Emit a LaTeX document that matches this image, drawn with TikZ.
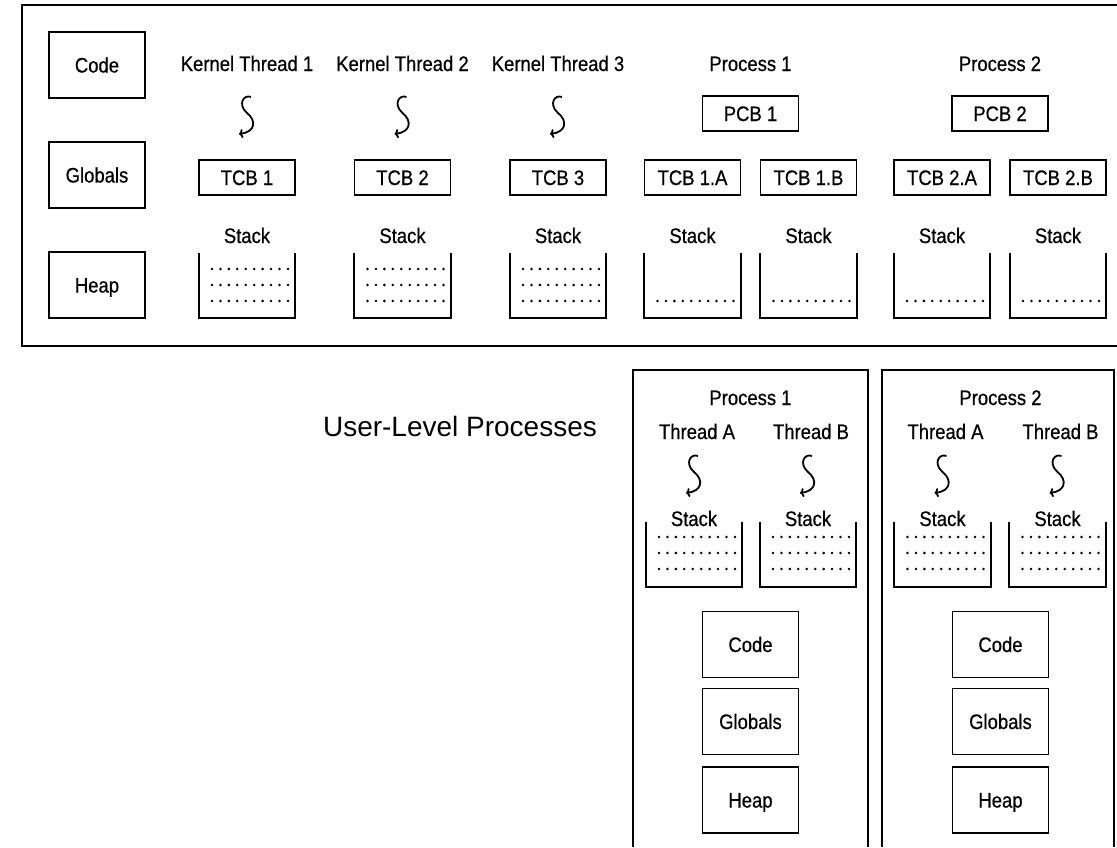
\documentclass[tikz,border=0pt]{standalone}
\usepackage{fontspec}
\setmainfont{Liberation Sans}[FakeStretch=0.88,FakeBold=0.6]
\newfontfamily\widefont{Liberation Sans}
\usetikzlibrary{positioning,calc,arrows.meta}

\tikzset{
	every node/.style={font=\fontsize{21}{24}\selectfont, text height=15pt, text depth=0pt},
	blk/.style={draw, line width=1.7pt, minimum width=96pt, minimum height=66pt, inner sep=0pt},
	cb/.style={draw, line width=1.7pt, minimum width=96pt, minimum height=35pt, inner sep=0pt},
	lbl/.style={inner sep=0pt, anchor=base},
	stk/.style={minimum width=96pt, minimum height=65pt, inner sep=0pt},
	wall/.style={line width=1.7pt},
	thread/.pic={\draw[-{To[length=4pt,width=9pt]}, line width=1.8pt] (4,1) .. controls (-3,-2) and (-10,8) .. (0,17) .. controls (10,25) and (8,36) .. (-8,38);}
}

\begin{document}
\begin{tikzpicture}[x=1pt, y=-1pt]
		\useasboundingbox (0,0) rectangle (1117,847);
		% kernel-level
		\draw[wall] (1117,5) -- (22,5) -- (22,346) -- (1117,346);
		\node[blk] (code) at (97,65) {Code};
		\node[blk] (glob) at (97,175) {Globals};
		\node[blk] (heap) at (97,285) {Heap};
		\foreach \i/\x in {1/247,2/402.5,3/558}
		{
			\node[lbl] (kt\i) at (\x,71) {Kernel Thread \i};
			\pic at (\x,96) {thread};
			\node[cb] (tcb\i) at (\x,177.5) {TCB \i};
			\node[lbl] (kst\i) at (\x,243) {Stack};
			\node[stk] (ks\i) at (\x,285.5) {};
			\draw[wall] (ks\i.north west) |- (ks\i.south east) -- (ks\i.north east);
			\foreach \r in {269,285,301}
				\foreach \d in {0,...,9}
					\fill (\x-35+8.44*\d,\r) circle (1.4pt);
		}
		\node[lbl] (pr1) at (750.5,71) {Process 1};
		\node[cb] (pcb1) at (750.5,113.5) {PCB 1};
		\node[lbl] (pr2) at (1000,71) {Process 2};
		\node[cb] (pcb2) at (1000,113.5) {PCB 2};
		\foreach \n/\t/\x in {a/1.A/692.5,b/1.B/808.5,c/2.A/942,d/2.B/1058}
		{
			\node[cb] (tcb\n) at (\x,177.5) {TCB \t};
			\node[lbl] (pst\n) at (\x,243) {Stack};
			\node[stk] (ps\n) at (\x,285.5) {};
			\draw[wall] (ps\n.north west) |- (ps\n.south east) -- (ps\n.north east);
			\foreach \d in {0,...,9}
				\fill (\x-35+8.44*\d,301) circle (1.4pt);
		}
		% user-level
		\node[font=\widefont\fontsize{28}{32}\selectfont, text height=20pt, inner sep=0pt] (ulp) at (460,426) {User-Level Processes};
		\draw[wall] (633,847) |- (868,370) -- (868,847);
		\draw[wall] (882,847) |- (1114,370) -- (1114,847);
		\foreach \p/\c/\a/\b in {1/750.5/694/808,2/1000.5/942.5/1057.5}
		{
			\node[lbl] (up\p) at (\c,405) {Process \p};
			\foreach \t/\x in {A/\a,B/\b}
			{
				\node[lbl] (th\p\t) at (\x+3,439) {Thread \t};
				\pic at (\x,455) {thread};
				\node[lbl] (ust\p\t) at (\x,526) {Stack};
				\node[stk] (us\p\t) at (\x,554.5) {};
				\draw[wall] (us\p\t.north west) |- (us\p\t.south east) -- (us\p\t.north east);
				\foreach \r in {537,553,569}
					\foreach \d in {0,...,9}
						\fill (\x-35+8.44*\d,\r) circle (1.4pt);
			}
			\node[blk] (ucode\p) at (\c,644.5) {Code};
			\node[blk] (uglob\p) at (\c,721.5) {Globals};
			\node[blk] (uheap\p) at (\c,800) {Heap};
		}
\end{tikzpicture}
\end{document}
